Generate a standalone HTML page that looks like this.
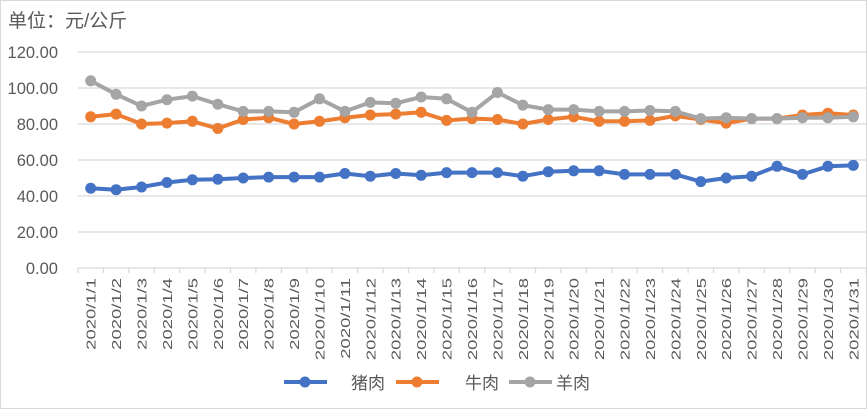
<!DOCTYPE html>
<html><head><meta charset="utf-8"><style>
body{margin:0;background:#fff;}
svg{display:block;font-family:"Liberation Sans","Noto Sans CJK SC",sans-serif;}
</style></head><body>
<svg id="c" width="867" height="409">
<rect x="0.5" y="0.5" width="866" height="408" fill="#fff" stroke="#d9d9d9"/>
<text x="8" y="27" font-size="19" fill="#595959">单位：元/公斤</text>
<g id="grid"></g><g id="xl"></g><g id="series"></g>
<g>
<g><line x1="284" y1="382" x2="327" y2="382" stroke="#4472c4" stroke-width="4"/><circle cx="305" cy="382" r="5.5" fill="#4472c4"/><text x="351" y="389" font-size="17" fill="#595959">猪肉</text></g>
<g><line x1="396" y1="382" x2="439" y2="382" stroke="#ed7d31" stroke-width="4"/><circle cx="417" cy="382" r="5.5" fill="#ed7d31"/><text x="465" y="389" font-size="17" fill="#595959">牛肉</text></g>
<g><line x1="509" y1="382" x2="552" y2="382" stroke="#a5a5a5" stroke-width="4"/><circle cx="530" cy="382" r="5.5" fill="#a5a5a5"/><text x="556" y="389" font-size="17" fill="#595959">羊肉</text></g>
</g>
</svg>
<script>
const categories=[];for(let d=1;d<=31;d++)categories.push('2020/1/'+d);
const yTicks=[0,20,40,60,80,100,120];
const pork=[44.3,43.5,45,47.5,49,49.3,50,50.5,50.5,50.5,52.5,51,52.5,51.5,53,53,53,51,53.5,54,54,52,52,52,48,50,51,56.5,52,56.5,57];
const beef=[84,85.5,80,80.5,81.5,77.5,82.5,83.5,80,81.5,83.5,85,85.5,86.5,82,83,82.5,80,82.5,84,81.5,81.5,82,84.5,82.5,80.5,83,83,85,86,85];
const mutton=[104,96.5,90,93.5,95.5,91,87,87,86.5,94,87,92,91.5,95,94,86.5,97.5,90.5,88,88,87,87,87.5,87,83,83.5,83,83,83.5,83.5,84];
const NS='http://www.w3.org/2000/svg';
const X0=78,X1=866,Y0=268,Y1=52;
const step=(X1-X0)/categories.length;
const xs=i=>X0+step*(i+0.5);
const ys=v=>Y0-(v/120)*(Y0-Y1);
function mk(t,a,p){const e=document.createElementNS(NS,t);for(const k in a)e.setAttribute(k,a[k]);p.appendChild(e);return e;}
const grid=document.getElementById('grid');
yTicks.forEach(v=>{
 const l=mk('line',{x1:X0,x2:X1,y1:ys(v),y2:ys(v),stroke:'#d9d9d9','stroke-width':1.3},grid);
 
 
 const t=mk('text',{x:58,y:ys(v)+6,'text-anchor':'end','font-size':16.5,fill:'#595959'},grid);
 t.textContent=v.toFixed(2);
 
 
});
for(let i=0;i<=categories.length;i++){
 const tk=mk('line',{x1:X0+step*i,x2:X0+step*i,y1:Y0,y2:Y0+5,stroke:'#d9d9d9','stroke-width':1.3},grid);
 
 
}
const xl=document.getElementById('xl');
categories.forEach((c,i)=>{
 const t=mk('text',{x:0,y:0,'text-anchor':'end','font-size':13,fill:'#595959',transform:`translate(${xs(i)+5},278) rotate(-90) scale(1.42,1)`},xl);
 t.textContent=c;
 
 
});
const sg=document.getElementById('series');
[[pork,'#4472c4','pork'],[beef,'#ed7d31','beef'],[mutton,'#a5a5a5','mutton']].forEach(([d,col,n])=>{
 const g=mk('g',{},sg);
 
 
 const pl=mk('polyline',{points:d.map((v,i)=>xs(i)+','+ys(v)).join(' '),fill:'none',stroke:col,'stroke-width':4,'stroke-linejoin':'round'},g);
 
 
 d.forEach((v,i)=>{
  const c=mk('circle',{cx:xs(i),cy:ys(v),r:5.5,fill:col},g);
  
  
 });
});
</script>
</body></html>
